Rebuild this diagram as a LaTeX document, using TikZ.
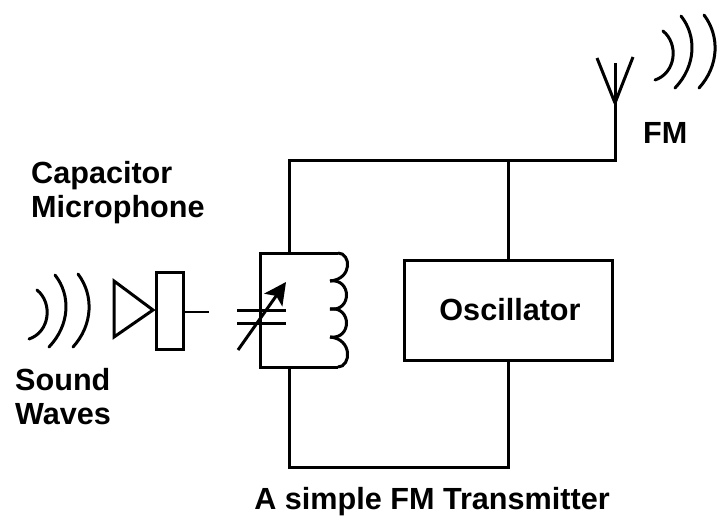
\documentclass[tikz,border=0pt]{standalone}
\usepackage{fontspec}
\setmainfont{Liberation Sans}
\usetikzlibrary{arrows.meta}
\tikzset{
  wire/.style={line width=3pt,line join=miter},
  thinwire/.style={line width=1.2pt},
  wave/.style={line width=3pt,line cap=round},
  label/.style={font=\fontsize{30.6}{34}\selectfont\bfseries,align=left,inner sep=0pt}
}
\begin{document}
\begin{tikzpicture}[x=1pt,y=-1pt]
\useasboundingbox (0,0) rectangle (720,517);
\node[label,anchor=west] (mictext) at (31,192.5) {Capacitor\\Microphone};
\node[label,anchor=west] (soundtext) at (15,397) {Sound\\Waves};
\node[label,anchor=west] (fmtext) at (643,133) {FM};
\node[label] (title) at (432,502) {A simple FM Transmitter};

\node[draw,wire,minimum width=208pt,minimum height=100pt,inner sep=0pt,font=\fontsize{30.6}{34}\selectfont\bfseries] (osc) at (508,310) {\hspace*{4pt}Oscillator};
\node[draw,wire,minimum width=27pt,minimum height=77pt,inner sep=0pt] (mic) at (169.5,310.5) {};

\coordinate (t1) at (289,253);
\coordinate (t2) at (289,160);
\coordinate (t3) at (508,160);
\coordinate (t4) at (615,160);
\coordinate (ant) at (615,103);
\coordinate (b1) at (289,367);
\coordinate (b2) at (289,467);
\coordinate (b3) at (508,467);
\coordinate (micout) at (209,312);

\draw[wire] (t1) -- (t2) -- (t4) -- (ant);
\draw[wire] (t3) -- (osc.north -| t3);
\draw[wire] (osc.south -| b3) -- (b3) -- (b2) -- (b1);
\draw[thinwire] (mic.east |- micout) -- (micout);

\foreach \x/\y in {597/58,615/63,633/57}
\draw[wire] (ant) -- (\x,\y);

\draw[wire] (114,281) -- (153,310) -- (114,337) -- cycle;

\draw[wire] (338,253) -- (260,253) -- (260,367) -- (338,367);
\draw[wire] (338,253) .. controls (351,253) and (353,279) .. (330,281);
\foreach \from/\to in {281/309,309/337}
\draw[wire] (330,\from) .. controls (352,\from-3) and (352,\to+3) .. (330,\to);
\draw[wire] (330,337) .. controls (353,339) and (351,367) .. (338,367);

\draw[wire] (237,310) -- (286,310);
\draw[wire] (237,323) -- (286,323);
\draw[wire,-{Stealth[length=22pt,width=22pt,inset=5pt]}] (238,350) -- (286,282);

\foreach \sx/\sy in {0/0,626/-259}
\foreach \ax/\ay/\ux/\uy/\vx/\vy/\bx/\by in {37/290/53/303/50/332/29/339,55/275/71/295/70/325/49/347,78/274/94/295/93/325/73/347}
\draw[wave,shift={(\sx,\sy)}] (\ax,\ay) .. controls (\ux,\uy) and (\vx,\vy) .. (\bx,\by);
\end{tikzpicture}
\end{document}
